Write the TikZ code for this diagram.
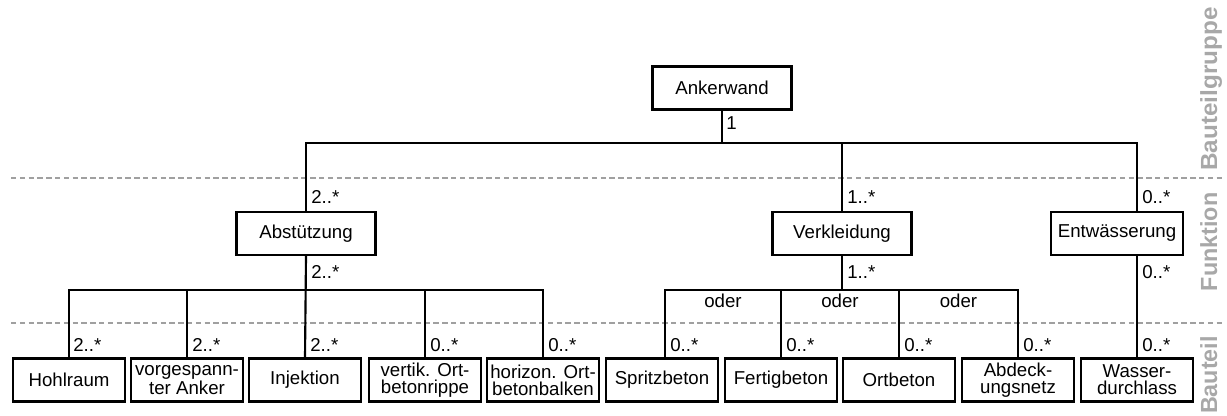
\documentclass[tikz,border=0pt]{standalone}
\usepackage{fontspec}
\setmainfont{Liberation Sans}
\usetikzlibrary{calc}
\definecolor{sepgray}{HTML}{A0A0A0}
\definecolor{levelgray}{HTML}{A8A8A8}
\begin{document}
\begin{tikzpicture}[x=0.75pt,y=-0.75pt,
  txt/.style={font=\fontsize{14}{12.75}\selectfont},
  box/.style={txt, draw=black, line width=1.9pt, inner sep=0pt, align=center,
              minimum height=32pt},
  upper/.style={box, minimum width=104pt},
  part/.style={box, minimum width=83.7pt},
  conn/.style={draw=black, line width=1.6pt},
  sep/.style={draw=sepgray, line width=1.2pt, dash pattern=on 4pt off 2.6pt},
  mult/.style={txt, anchor=base west, inner sep=0pt},
  alt/.style={txt, anchor=base, inner sep=0pt},
  level/.style={font=\bfseries\fontsize{17.5}{17.5}\selectfont, text=levelgray,
                rotate=90, anchor=base, inner sep=0pt}]
\useasboundingbox (0,0) rectangle (1227,416);

% level separators
\coordinate (s1l) at (11,178);  \coordinate (s1r) at (1222,178);
\coordinate (s2l) at (11,323);  \coordinate (s2r) at (1222,323);
\draw[sep] (s1l) -- (s1r);
\draw[sep] (s2l) -- (s2r);

% level names
\node[level] (lvA) at (1217,89)  {\scalebox{1.04}[1]{Bauteilgruppe}};
\node[level] (lvB) at (1217,242) {Funktion};
\node[level] (lvC) at (1217,375) {Bauteil};

% group and functions
\node[upper] (ank) at (722,88)    {Ankerwand};
\node[upper] (abs) at (306,233.5) {Abstützung};
\node[upper] (ver) at (842,233.5) {Verkleidung};
\node[box, minimum width=98.7pt] (ent) at (1117,233.5) {Entwässerung};

% parts
\node[part] (hoh) at (69,380)   {Hohlraum};
\node[part] (vga) at (187,380)  {vorgespann-\\ter Anker};
\node[part] (inj) at (305,380)  {Injektion};
\node[part] (vor) at (425,380)  {vertik. Ort-\\betonrippe};
\node[part] (hob) at (543,380)  {horizon. Ort-\\betonbalken};
\node[part] (spr) at (662,380)  {Spritzbeton};
\node[part] (fer) at (781,380)  {Fertigbeton};
\node[part] (ort) at (899,380)  {Ortbeton};
\node[part] (abd) at (1018,380) {Abdeck-\\ungsnetz};
\node[part] (wdl) at (1137,380) {Wasser-\\durchlass};

% bus heights
\coordinate (busA) at (0,143);
\coordinate (busB) at (0,290);
\coordinate (sprIn) at ($(spr.north)+(3,0)$);
\coordinate (entIn) at (ent.north -| wdl.north);
\coordinate (entOut) at (ent.south -| wdl.north);

% Ankerwand -> functions
\draw[conn] (ank.south) -- (ank.south |- busA);
\draw[conn] (abs.north) -- (abs.north |- busA) -- (entIn |- busA) -- (entIn);
\draw[conn] (ver.north) -- (ver.north |- busA);

% Abstützung -> parts
\draw[conn] (hoh.north) -- (hoh.north |- busB) -- (hob.north |- busB) -- (hob.north);
\draw[conn] (vga.north) -- (vga.north |- busB);
\draw[conn] (abs.south) -- (inj.north);
\draw[conn] (vor.north) -- (vor.north |- busB);

% Verkleidung -> parts
\draw[conn] (sprIn) -- (sprIn |- busB) -- (abd.north |- busB) -- (abd.north);
\draw[conn] (fer.north) -- (fer.north |- busB);
\draw[conn] (ort.north) -- (ort.north |- busB);
\draw[conn] (ver.south) -- (ver.south |- busB);

% Entwässerung -> part
\draw[conn] (entOut) -- (wdl.north);

% multiplicities
\node[mult] (mA)  at ($(ank.south)+(4,19)$) {1};
\node[mult] (mB1) at ($(abs.north)+(5,-7)$) {2..*};
\node[mult] (mB2) at ($(ver.north)+(5,-7)$) {1..*};
\node[mult] (mB3) at ($(entIn)+(5,-7)$) {0..*};
\node[mult] (mC1) at ($(abs.south)+(5,22.5)$) {2..*};
\node[mult] (mC2) at ($(ver.south)+(5,22.5)$) {1..*};
\node[mult] (mC3) at ($(entOut)+(5,22.5)$) {0..*};
\node[mult] (p1)  at ($(hoh.north)+(4,-6)$) {2..*};
\node[mult] (p2)  at ($(vga.north)+(5,-6)$) {2..*};
\node[mult] (p3)  at ($(inj.north)+(5,-6)$) {2..*};
\node[mult] (p4)  at ($(vor.north)+(5,-6)$) {0..*};
\node[mult] (p5)  at ($(hob.north)+(5,-6)$) {0..*};
\node[mult] (p6)  at ($(sprIn)+(5,-6)$) {0..*};
\node[mult] (p7)  at ($(fer.north)+(5,-6)$) {0..*};
\node[mult] (p8)  at ($(ort.north)+(5,-6)$) {0..*};
\node[mult] (p9)  at ($(abd.north)+(5,-6)$) {0..*};
\node[mult] (p10) at ($(wdl.north)+(5,-6)$) {0..*};

% alternatives
\node[alt] (o1) at ($(sprIn |- 0,308)!0.5!(fer.north |- 0,308)$) {oder};
\node[alt] (o2) at ($(fer.north |- 0,308)!0.5!(ort.north |- 0,308)$) {oder};
\node[alt] (o3) at ($(ort.north |- 0,308)!0.5!(abd.north |- 0,308)$) {oder};
\end{tikzpicture}
\end{document}
